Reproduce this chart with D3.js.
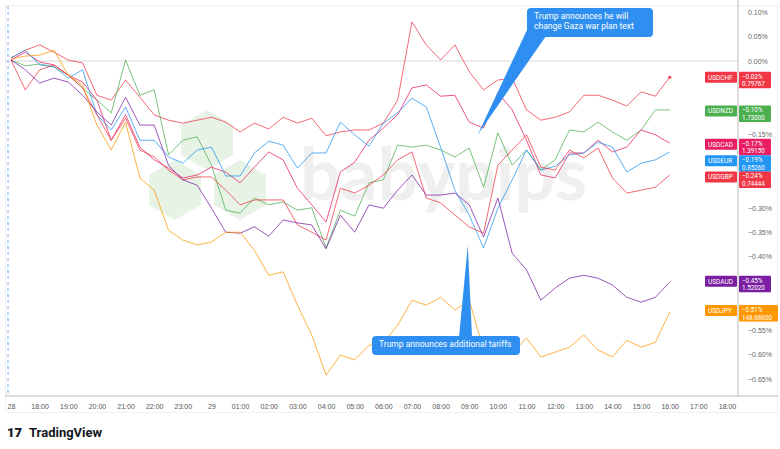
<!DOCTYPE html>
<html><head><meta charset="utf-8">
<script src="https://cdn.jsdelivr.net/npm/d3@7"></script>
<style>body{margin:0;background:#fff}svg{font-family:Roboto,"Open Sans",sans-serif}</style>
</head><body><svg id="c" width="780" height="449"></svg>
<script>
// hours since 17:00 on the 28th, 30-minute steps
const times = d3.range(0, 23.01, 0.5);
const usdchf = [.006,.022,.033,.018,.002,-.004,-.070,-.080,-.039,-.074,-.110,-.121,-.127,-.121,-.115,-.125,-.145,-.127,-.139,-.115,-.127,-.117,-.153,-.145,-.141,-.141,-.127,-.080,.080,.033,.002,.033,-.022,-.059,-.039,-.035,-.100,-.121,-.115,-.104,-.070,-.070,-.080,-.092,-.063,-.072,-.033];
const usdnzd = [.002,-.010,-.006,-.012,-.029,-.055,-.080,-.106,.002,-.070,-.059,-.192,-.162,-.155,-.213,-.305,-.311,-.280,-.294,-.288,-.305,-.300,-.382,-.305,-.317,-.249,-.243,-.172,-.176,-.172,-.182,-.196,-.178,-.258,-.147,-.213,-.182,-.223,-.202,-.141,-.145,-.125,-.145,-.162,-.141,-.100,-.100];
const usdcad = [.002,.018,-.002,-.008,-.029,-.043,-.080,-.162,-.110,-.176,-.202,-.219,-.239,-.233,-.217,-.227,-.249,-.217,-.186,-.202,-.260,-.294,-.329,-.227,-.207,-.162,-.137,-.110,-.055,-.049,-.072,-.070,-.125,-.137,-.065,-.100,-.162,-.233,-.239,-.188,-.188,-.162,-.186,-.176,-.141,-.151,-.168];
const usdeur = [.006,.022,-.008,-.012,-.035,-.018,-.110,-.141,-.094,-.162,-.162,-.196,-.209,-.182,-.176,-.235,-.235,-.188,-.164,-.172,-.219,-.188,-.188,-.125,-.151,-.174,-.127,-.106,-.076,-.094,-.176,-.264,-.315,-.382,-.301,-.243,-.182,-.223,-.215,-.192,-.188,-.166,-.176,-.227,-.209,-.202,-.186];
const usdgbp = [.002,-.059,-.018,-.008,-.029,-.055,-.110,-.162,-.117,-.182,-.196,-.223,-.243,-.237,-.237,-.264,-.294,-.284,-.284,-.284,-.335,-.350,-.366,-.260,-.270,-.254,-.233,-.202,-.186,-.280,-.290,-.315,-.339,-.352,-.213,-.182,-.151,-.217,-.223,-.182,-.198,-.178,-.239,-.270,-.264,-.258,-.233];
const usdaud = [.002,-.018,-.045,-.035,-.043,-.070,-.104,-.131,-.074,-.131,-.131,-.213,-.243,-.254,-.301,-.350,-.352,-.339,-.358,-.325,-.331,-.335,-.384,-.315,-.350,-.294,-.301,-.264,-.233,-.274,-.274,-.270,-.294,-.360,-.280,-.393,-.427,-.489,-.464,-.444,-.438,-.444,-.458,-.483,-.493,-.483,-.452];
const usdjpy = [.004,.010,.012,.022,-.029,-.049,-.131,-.182,-.125,-.239,-.264,-.346,-.366,-.376,-.370,-.350,-.350,-.387,-.438,-.431,-.499,-.560,-.642,-.601,-.611,-.581,-.577,-.540,-.489,-.499,-.483,-.509,-.489,-.591,-.591,-.597,-.566,-.605,-.595,-.585,-.560,-.591,-.605,-.571,-.585,-.575,-.513];
const names = ["USDCHF","USDNZD","USDCAD","USDEUR","USDGBP","USDAUD","USDJPY"];
const lastPct = ["−0.03%","−0.10%","−0.17%","−0.19%","−0.24%","−0.45%","−0.51%"];
const lastPrice = ["0.79767","1.73000","1.39150","0.85260","0.74444","1.52020","148.68800"];
const colors = ["#f23645","#4caf50","#e91e63","#2196f3","#f23645","#7b1fa2","#ff9800"];
const labelPos = [-0.033,-0.102,-0.170,-0.204,-0.237,-0.45,-0.51];
const xTickHours = d3.range(0, 26, 1);
const xTickLabels = ["28","18:00","19:00","20:00","21:00","22:00","23:00","29","01:00","02:00","03:00","04:00","05:00","06:00","07:00","08:00","09:00","10:00","11:00","12:00","13:00","14:00","15:00","16:00","17:00","18:00"];
const yTicks = [0.10,0.05,0,-0.05,-0.10,-0.15,-0.20,-0.25,-0.30,-0.35,-0.40,-0.45,-0.50,-0.55,-0.60,-0.65];
const series = [usdchf,usdnzd,usdcad,usdeur,usdgbp,usdaud,usdjpy];

const svg = d3.select("#c");
const x = d3.scaleLinear().domain([0,25]).range([11,727]);
const y = d3.scaleLinear().domain([0,-0.65]).range([61,379]);
const AX = 396;

// frame
svg.append("rect").attr("x",5.5).attr("y",5.5).attr("width",772).attr("height",407).attr("fill","none").attr("stroke","#f0f0f0");
// watermark
const wm = svg.append("g").attr("opacity",0.55);
const hex = (cx,cy,r)=>d3.range(6).map(i=>[cx+r*Math.cos(Math.PI/6+i*Math.PI/3),cy+r*Math.sin(Math.PI/6+i*Math.PI/3)]);
[[207,140,30],[175,190,30],[240,190,30]].forEach(h=>wm.append("polygon").attr("points",hex(...h).join(" ")).attr("fill","#d5ebd0"));
wm.append("text").attr("x",300).attr("y",200).attr("font-size",72).attr("font-weight","bold").attr("fill","#e2e2e2").attr("font-family","Lato,sans-serif").text("babypips");

// zero line & dashed start line
svg.append("line").attr("x1",5).attr("x2",738).attr("y1",y(0)).attr("y2",y(0)).attr("stroke","#d8d8d8");
svg.append("line").attr("x1",8).attr("x2",8).attr("y1",6).attr("y2",AX).attr("stroke","#6aa8f0").attr("stroke-dasharray","3,3");

// label boxes in pixel space (for hiding covered ticks)
const boxTop = labelPos.map(v=>y(v)-5.5);

// axes
const yAx = svg.append("g").attr("transform","translate(738,0)")
  .call(d3.axisRight(y).tickValues(yTicks.filter(t=>!boxTop.some(b=>y(t)>b-4&&y(t)<b+20))).tickSize(0).tickPadding(10).tickFormat(d=>d3.format(".2f")(d).replace("-","−")+"%"));
yAx.select(".domain").attr("stroke","#bbb").attr("d","M0,0V"+AX);
yAx.selectAll("text").attr("font-size",7).attr("fill","#666");
const xAx = svg.append("g").attr("transform","translate(0,"+AX+")")
  .call(d3.axisBottom(x).tickValues(xTickHours).tickSize(0).tickPadding(8).tickFormat((d,i)=>xTickLabels[i]));
xAx.select(".domain").attr("stroke","#bbb").attr("d","M5,0H778");
xAx.selectAll("text").attr("font-size",7).attr("fill","#555");

// lines
const line = d3.line().x((d,i)=>x(times[i])).y(d=>y(d));
series.forEach((s,k)=>svg.append("path").datum(s).attr("d",line).attr("fill","none").attr("stroke",colors[k]).attr("stroke-width",1).attr("stroke-opacity",0.75));
svg.append("circle").attr("cx",x(times[46])).attr("cy",y(usdchf[46])).attr("r",1.5).attr("fill",colors[0]);

// callouts
function callout(bx,by,bw,bh,lines,tip,base){
  svg.append("polygon").attr("points",[base[0],base[1],tip].map(p=>p.join(",")).join(" ")).attr("fill","#2e8ff0");
  svg.append("rect").attr("x",bx).attr("y",by).attr("width",bw).attr("height",bh).attr("rx",4).attr("fill","#2e8ff0");
  lines.forEach((t,i)=>svg.append("text").attr("x",bx+7).attr("y",by+11+i*10).attr("font-size",8.5).attr("fill","#fff").text(t));
}
callout(527,8,126,29,["Trump announces he will","change Gaza war plan text"],[x(16.3),y(-0.15)],[[527,30],[546,36]]);
callout(372,336,148,19,["Trump announces additional tariffs"],[x(15.95),y(-0.377)],[[459,337],[472,337]]);

// labels
names.forEach((n,k)=>{
  const cy=y(labelPos[k]);
  const g=svg.append("g");
  g.append("rect").attr("x",705).attr("y",cy-5.5).attr("width",32).attr("height",11).attr("rx",1).attr("fill",colors[k]);
  g.append("text").attr("x",708).attr("y",cy+2.5).attr("font-size",6.5).attr("fill","#fff").text(n);
  g.append("rect").attr("x",739).attr("y",cy-5.5).attr("width",k==6?39:32).attr("height",16.5).attr("rx",1).attr("fill",colors[k]);
  g.append("text").attr("x",742).attr("y",cy+1.5).attr("font-size",6.3).attr("fill","#fff").text(lastPct[k]);
  g.append("text").attr("x",742).attr("y",cy+9).attr("font-size",6.3).attr("fill","#fff").text(lastPrice[k]);
});

// logo
svg.append("text").attr("x",7).attr("y",437).attr("font-size",13).attr("font-weight","900").attr("fill","#131722").text("17");
svg.append("text").attr("x",29).attr("y",437).attr("font-size",13).attr("font-weight","bold").attr("fill","#131722").text("TradingView");
</script></body></html>
